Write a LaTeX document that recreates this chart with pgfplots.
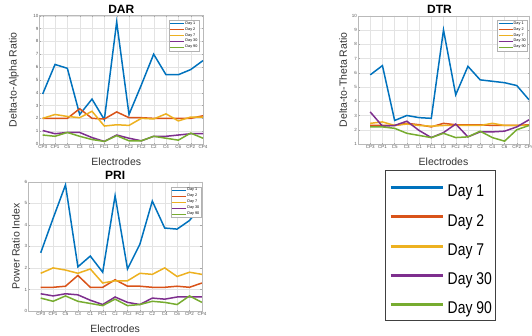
\documentclass[border=0pt]{standalone}
\usepackage{fontspec}
\setmainfont{Liberation Sans}
\usepackage{graphicx}
\usepackage{pgfplots}
\usepackage{pgfplotstable}
\pgfplotsset{compat=1.18}
\definecolor{cA}{RGB}{0,114,189}
\definecolor{cB}{RGB}{217,83,25}
\definecolor{cC}{RGB}{237,177,32}
\definecolor{cD}{RGB}{126,47,142}
\definecolor{cE}{RGB}{119,172,48}

\pgfplotstableread{
x  d1   d2   d7   d30  d90
0  3.9  2.0  2.0  1.05 0.7
1  6.2  2.0  2.3  0.8  0.6
2  5.9  2.0  2.15 0.9  0.9
3  2.3  2.75 2.05 0.9  0.6
4  3.5  2.0  2.55 0.5  0.35
5  1.9  1.95 1.4  0.2  0.2
6  9.5  2.5  1.5  0.7  0.65
7  2.3  2.05 1.45 0.45 0.25
8  4.6  2.05 2.0  0.25 0.25
9  7.0  2.0  1.95 0.6  0.6
10 5.4  2.0  2.35 0.6  0.45
11 5.4  2.0  1.8  0.7  0.3
12 5.8  2.0  2.1  0.8  0.85
13 6.5  2.2  2.1  0.8  0.45
}\dar

\pgfplotstableread{
x  d1   d2   d7   d30  d90
0  5.85 2.3  2.45 3.25 2.2
1  6.5  2.3  2.55 2.25 2.2
2  2.65 2.3  2.3  2.3  2.1
3  3.0  2.45 2.4  2.6  1.75
4  2.85 2.35 2.3  1.95 1.6
5  2.8  2.2  2.25 1.45 1.45
6  9.0  2.45 2.3  1.8  1.75
7  4.45 2.35 2.3  2.4  1.45
8  6.45 2.35 2.3  1.5  1.5
9  5.5  2.35 2.3  1.85 1.9
10 5.4  2.3  2.45 1.85 1.45
11 5.3  2.3  2.3  1.9  1.2
12 5.1  2.3  2.3  2.2  2.0
13 4.1  2.35 2.3  2.7  2.3
}\dtr

\pgfplotstableread{
x  d1   d2   d7   d30  d90
0  2.7  1.1  1.75 0.8  0.6
1  4.3  1.1  2.0  0.7  0.45
2  5.85 1.15 1.9  0.8  0.7
3  2.05 1.65 1.75 0.75 0.45
4  2.55 1.1  1.95 0.5  0.35
5  1.8  1.1  1.3  0.3  0.25
6  5.35 1.45 1.4  0.65 0.55
7  1.95 1.15 1.4  0.4  0.25
8  3.1  1.15 1.75 0.3  0.3
9  5.1  1.1  1.7  0.6  0.45
10 3.85 1.1  2.0  0.55 0.4
11 3.8  1.15 1.6  0.65 0.3
12 4.2  1.1  1.8  0.65 0.7
13 4.9  1.3  1.7  0.65 0.4
}\pri

\pgfplotsset{
  myax/.style={
    scale only axis,
    grid=major,
    grid style={gray!22, line width=0.3pt},
    axis line style={gray!55, line width=0.4pt},
    tick style={gray!70, line width=0.3pt},
    tick align=inside,
    major tick length=1.5pt,
    xtick={0,...,13},
    xticklabels={CP3,CP1,C5,C3,C1,FC1,Cz,FCz,FC2,C2,C4,C6,CP2,CP4},
    ticklabel style={font=\fontsize{4.5}{5}\selectfont, text=black!65},
    xticklabel style={inner sep=1pt},
    yticklabel style={inner sep=1pt},
    /pgf/number format/assume math mode=true,
    every axis title shift=0pt,
    title style={font=\fontsize{12}{12}\selectfont\bfseries, anchor=base, at={(0.5,1)}, yshift=2.4pt},
    label style={font=\fontsize{10.5}{12}\selectfont, text=black!80},
    xlabel style={at={(axis description cs:0.5,0)}, anchor=center, yshift=-17.5pt},
    every axis plot/.append style={line width=1.5pt, mark=none},
    legend cell align=left,
    legend image code/.code={\draw[##1, line width=1pt] (0pt,0pt) -- (14pt,0pt);},
    legend style={font=\fontsize{3.8}{4}\selectfont, anchor=north east,
      draw=gray!60, line width=0.3pt, inner sep=0.8pt, row sep=0.6pt,
      nodes={inner sep=0.6pt}},
  }
}

\begin{document}
\begin{tikzpicture}
\useasboundingbox (0,0) rectangle (532pt,335pt);

% DAR
\begin{axis}[myax, at={(39.6pt,191pt)}, anchor=south west,
  width=163.4pt, height=128.3pt,
  xmin=-0.25, xmax=13, ymin=0, ymax=10, ytick={0,...,10},
  title={DAR}, xlabel={Electrodes}, ylabel={Delta-to-Alpha Ratio},
  ylabel style={at={(axis description cs:-0.1567,0.5)}, anchor=center},
  xlabel style={xshift=-5pt},
  legend style={at={(1,1)}, xshift=-4pt, yshift=-4.3pt}]
\addplot[cA] table[x=x,y=d1]{\dar}; \addlegendentry{Day 1}
\addplot[cB] table[x=x,y=d2]{\dar}; \addlegendentry{Day 2}
\addplot[cC] table[x=x,y=d7]{\dar}; \addlegendentry{Day 7}
\addplot[cD] table[x=x,y=d30]{\dar}; \addlegendentry{Day 30}
\addplot[cE] table[x=x,y=d90]{\dar}; \addlegendentry{Day 90}
\end{axis}

% DTR
\begin{axis}[myax, at={(358pt,191pt)}, anchor=south west,
  width=171pt, height=128.3pt,
  xmin=-1, xmax=13, ymin=1, ymax=10, ytick={1,...,10},
  title={DTR}, xlabel={Electrodes}, ylabel={Delta-to-Theta Ratio},
  ylabel style={at={(axis description cs:-0.0877,0.5)}, anchor=center},
  title style={xshift=-4pt},
  legend style={at={(1,1)}, xshift=-1.7pt, yshift=-4.3pt}]
\addplot[cA] table[x=x,y=d1]{\dtr}; \addlegendentry{Day 1}
\addplot[cB] table[x=x,y=d2]{\dtr}; \addlegendentry{Day 2}
\addplot[cC] table[x=x,y=d7]{\dtr}; \addlegendentry{Day 7}
\addplot[cD] table[x=x,y=d30]{\dtr}; \addlegendentry{Day 30}
\addplot[cE] table[x=x,y=d90]{\dtr}; \addlegendentry{Day 90}
\end{axis}

% PRI
\begin{axis}[myax, at={(28.3pt,24pt)}, anchor=south west,
  width=173.6pt, height=129.3pt,
  xmin=-1, xmax=13, ymin=0, ymax=6, ytick={0,...,6},
  title={PRI}, xlabel={Electrodes}, ylabel={Power Ratio Index},
  ylabel style={at={(axis description cs:-0.0709,0.5)}, anchor=center},
  legend style={at={(1,1)}, xshift=-1pt, yshift=-5pt}]
\addplot[cA] table[x=x,y=d1]{\pri}; \addlegendentry{Day 1}
\addplot[cB] table[x=x,y=d2]{\pri}; \addlegendentry{Day 2}
\addplot[cC] table[x=x,y=d7]{\pri}; \addlegendentry{Day 7}
\addplot[cD] table[x=x,y=d30]{\pri}; \addlegendentry{Day 30}
\addplot[cE] table[x=x,y=d90]{\pri}; \addlegendentry{Day 90}
\end{axis}

% big legend
\draw[black!75, line width=0.7pt] (385pt,14.3pt) rectangle (495pt,165pt);
\foreach \yy/\cc/\tt in {147.7/cA/Day 1, 118.3/cB/Day 2, 89/cC/Day 7, 60/cD/Day 30, 31/cE/Day 90}{
  \draw[\cc, line width=3pt] (390.7pt,\yy pt) -- (443.3pt,\yy pt);
  \node[anchor=base west, inner sep=0pt] at (447.5pt,\yy pt-9.4pt) {\scalebox{0.82}[1]{\fontsize{17}{17}\selectfont \tt}};
}
\end{tikzpicture}
\end{document}
